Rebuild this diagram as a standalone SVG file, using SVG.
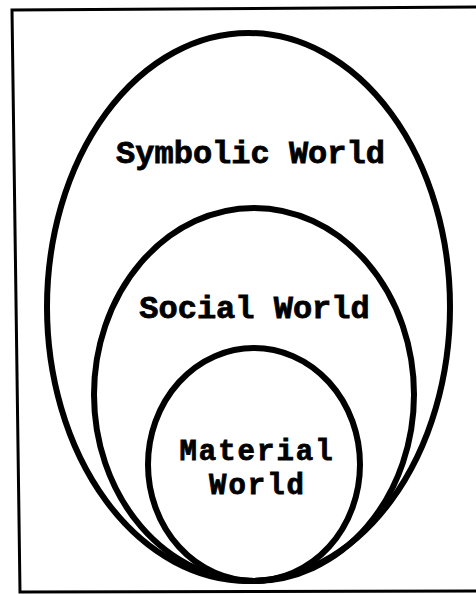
<svg xmlns="http://www.w3.org/2000/svg" width="476" height="594" viewBox="0 0 476 594">
<style>
.ring{fill:none;stroke:#000;stroke-width:6}
.lbl{font-family:"Liberation Mono","DejaVu Sans Mono",monospace;font-weight:bold;font-size:32px;fill:#000;stroke:#000;stroke-width:0.8;text-anchor:middle}
.sm{font-size:29px;letter-spacing:2px}
</style>
<rect width="476" height="594" fill="#fff"/>
<path d="M476,7 L12,10 L20,592 L476,591" fill="none" stroke="#000" stroke-width="3"/>
<g id="symbolic">
<ellipse class="ring" cx="248.5" cy="307" rx="201.5" ry="274"/>
<text class="lbl" x="250.5" y="163">Symbolic World</text>
</g>
<g id="social">
<ellipse class="ring" cx="254" cy="394.5" rx="160" ry="186.5"/>
<text class="lbl" x="254.5" y="318">Social World</text>
</g>
<g id="material">
<ellipse class="ring" cx="254" cy="464.5" rx="106" ry="116.5"/>
<text class="lbl sm" x="257" y="460">Material</text>
<text class="lbl sm" x="257.5" y="494">World</text>
</g>
<g id="connectors"></g>
</svg>
